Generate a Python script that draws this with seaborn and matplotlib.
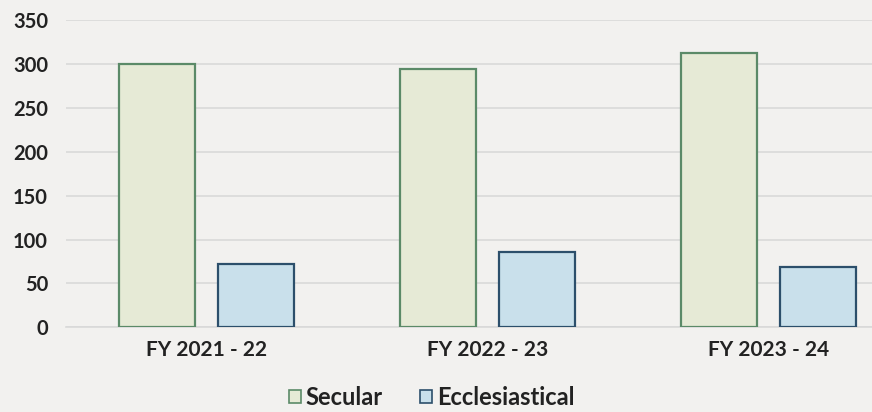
import pandas as pd
import matplotlib.pyplot as plt
import seaborn as sns
from matplotlib.patches import Patch

years = ['FY 2021 - 22', 'FY 2022 - 23', 'FY 2023 - 24']
secular = [300, 294, 312]
ecclesiastical = [72, 86, 69]
series = ['Secular', 'Ecclesiastical']

fills = {'Secular': '#e6ead6', 'Ecclesiastical': '#c9e0eb'}
edges = {'Secular': '#5b8a68', 'Ecclesiastical': '#2c4f6b'}
bg = '#f2f1ef'

df = pd.DataFrame({
    'year': years * 2,
    'series': ['Secular'] * len(years) + ['Ecclesiastical'] * len(years),
    'value': secular + ecclesiastical,
})

sns.set_theme(style='white')
plt.rcParams['font.family'] = ['Lato', 'DejaVu Sans']
plt.rcParams['font.weight'] = 'bold'

fig = plt.figure(figsize=(8.72, 4.12), dpi=100, facecolor=bg)
ax = fig.add_axes([66 / 872, 84.7 / 412, 843 / 872, 307.3 / 412])
ax.set_facecolor(bg)

sns.barplot(data=df, x='year', y='value', hue='series', hue_order=series,
            palette=fills, saturation=1, width=0.7, gap=0.23, legend=False, ax=ax,
            linewidth=1.6, zorder=3)

for i, patch in enumerate(ax.patches):
    patch.set_edgecolor(edges[series[i // len(years)]])

ax.set_ylim(0, 350)
ax.set_yticks(range(0, 351, 50))
ax.yaxis.grid(True, color='#d9d9d9', linewidth=1.2, zorder=0)
ax.set_axisbelow(True)
for s in ['top', 'right', 'left']:
    ax.spines[s].set_visible(False)
ax.spines['bottom'].set_color('#d9d9d9')
ax.spines['bottom'].set_linewidth(1.2)
ax.set_xlabel('')
ax.set_ylabel('')
ax.tick_params(axis='y', length=0, pad=13, labelsize=14.5, labelcolor='#222222')
ax.tick_params(axis='x', length=0, pad=9, labelsize=15, labelcolor='#222222')

handles = [Patch(facecolor=fills[s], edgecolor=edges[s], linewidth=1.2, label=s) for s in series]
fig.legend(handles=handles, loc='center', bbox_to_anchor=(0.495, 0.036), ncol=2,
           frameon=False, prop={'size': 17, 'weight': 'bold'}, handlelength=0.5,
           handleheight=0.5, handletextpad=0.2, columnspacing=1.6,
           labelcolor='#222222')

plt.savefig('out.png', dpi=100, facecolor=bg)
